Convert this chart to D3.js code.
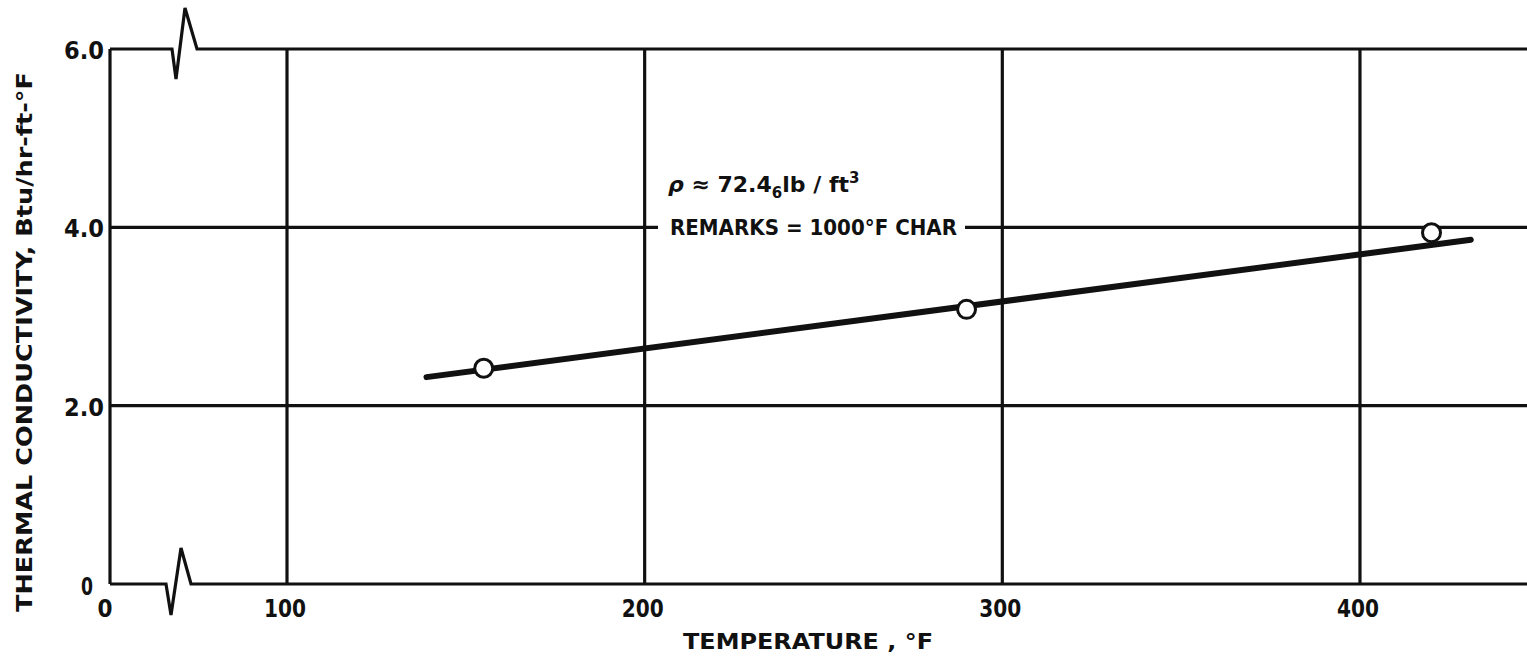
<!DOCTYPE html>
<html>
<head>
<meta charset="utf-8">
<script src="https://cdn.jsdelivr.net/npm/d3@7"></script>
<style>
  html, body { margin: 0; padding: 0; background: #fff; }
  svg { display: block; }
  text { font-family: "DejaVu Sans", sans-serif; fill: #111; font-weight: bold; }
</style>
</head>
<body>
<svg id="chart" width="1527" height="667"></svg>
<script>
// ---- data ----
const xTicks = [0, 100, 200, 300, 400];
const yTicks = [0, 2.0, 4.0, 6.0];
const yTickLabels = ["0", "2.0", "4.0", "6.0"];
const xGrid = [100, 200, 300, 400];
const yGrid = [2.0, 4.0];
const pointTemps = [155, 290, 420];
const pointK = [2.42, 3.08, 3.94];
const fitTemps = [139, 431];
const fitK = [2.32, 3.86];
const xTitle = "TEMPERATURE , °F";
const yTitle = "THERMAL CONDUCTIVITY, Btu/hr-ft-°F";
const note1 = { rho: "ρ", main: " ≈ 72.4", sub: "6", rest: "lb / ft", sup: "3" };
const note2 = "REMARKS = 1000°F CHAR";

// ---- scales (x axis is broken between 0 and 100) ----
const W = 1527, H = 667;
const x = d3.scaleLinear().domain([0, 100, 446.7]).range([110, 287, 1527]);
const y = d3.scaleLinear().domain([0, 6]).range([584, 49]);

const svg = d3.select("#chart");
svg.append("rect").attr("width", W).attr("height", H).attr("fill", "#fff");

const ink = "#111";

// gridlines
const g = svg.append("g").attr("stroke", ink).attr("stroke-width", 3.2).attr("fill", "none");
xGrid.forEach(v => {
  g.append("line").attr("x1", x(v)).attr("x2", x(v)).attr("y1", y(6)).attr("y2", y(0));
});
yGrid.forEach(v => {
  g.append("line").attr("x1", x(0)).attr("x2", W).attr("y1", y(v)).attr("y2", y(v));
});

// left axis
g.append("line").attr("x1", x(0)).attr("x2", x(0)).attr("y1", y(6)).attr("y2", y(0));

// top & bottom lines with break squiggles
const x0 = x(0);
const topY = y(6), botY = y(0);
const topPath = d3.line()([
  [x0, topY], [x0 + 62, topY], [x0 + 66, topY + 30], [x0 + 75, topY - 41], [x0 + 87, topY], [W, topY]
]);
const botPath = d3.line()([
  [x0, botY], [x0 + 56, botY], [x0 + 61, botY + 31], [x0 + 71, botY - 36], [x0 + 81, botY], [W, botY]
]);
g.append("path").attr("d", topPath).attr("stroke-linejoin", "miter");
g.append("path").attr("d", botPath).attr("stroke-linejoin", "miter");

// annotation (with white gap in 4.0 gridline)
svg.append("rect")
  .attr("x", 658).attr("y", y(4.0) - 6).attr("width", 307).attr("height", 12)
  .attr("fill", "#fff");

const ann = svg.append("g");
const t1 = ann.append("text").attr("x", 668).attr("y", 192).attr("font-size", 22).attr("font-weight", "normal");
t1.append("tspan").style("font-style", "italic").text(note1.rho);
t1.append("tspan").text(note1.main);
t1.append("tspan").attr("font-size", 15).attr("dy", 6).text(note1.sub);
t1.append("tspan").attr("dy", -6).attr("font-size", 22).text(note1.rest);
t1.append("tspan").attr("font-size", 15).attr("dy", -9).text(note1.sup);

ann.append("text").attr("x", 670).attr("y", y(4.0) + 8).attr("font-size", 21)
  .attr("textLength", 287).attr("lengthAdjust", "spacingAndGlyphs").text(note2);

// fit line
svg.append("path")
  .attr("d", d3.line().x((d, i) => x(fitTemps[i])).y((d, i) => y(fitK[i]))(fitTemps))
  .attr("stroke", ink).attr("stroke-width", 6).attr("stroke-linecap", "round").attr("fill", "none");

// data points
svg.append("g").selectAll("circle").data(pointTemps).join("circle")
  .attr("cx", d => x(d)).attr("cy", (d, i) => y(pointK[i])).attr("r", 9)
  .attr("fill", "#fff").attr("stroke", ink).attr("stroke-width", 3);

// tick labels
const xl = svg.append("g").attr("font-size", 24).attr("text-anchor", "middle");
xTicks.forEach(v => {
  xl.append("text").attr("x", v === 0 ? x(v) - 5 : x(v) - 2).attr("y", 617)
    .attr("textLength", v === 0 ? 15 : 42).attr("lengthAdjust", "spacingAndGlyphs")
    .text(String(v));
});
const yl = svg.append("g").attr("font-size", 24).attr("text-anchor", "end");
yTicks.forEach((v, i) => {
  if (v === 0) {
    yl.append("text").attr("x", 93).attr("y", y(v) + 11).attr("font-size", 25)
      .attr("textLength", 12).attr("lengthAdjust", "spacingAndGlyphs").text(yTickLabels[i]);
  } else {
    yl.append("text").attr("x", 104).attr("y", y(v) + 10).attr("textLength", 40)
      .attr("lengthAdjust", "spacingAndGlyphs").text(yTickLabels[i]);
  }
});

// axis titles
svg.append("text").attr("x", 808).attr("y", 649).attr("text-anchor", "middle").attr("font-size", 21)
  .attr("textLength", 250).attr("lengthAdjust", "spacingAndGlyphs").text(xTitle);
svg.append("text").attr("transform", "translate(32,342) rotate(-90)").attr("text-anchor", "middle")
  .attr("font-size", 21).attr("textLength", 540).attr("lengthAdjust", "spacingAndGlyphs").text(yTitle);
</script>
</body>
</html>
